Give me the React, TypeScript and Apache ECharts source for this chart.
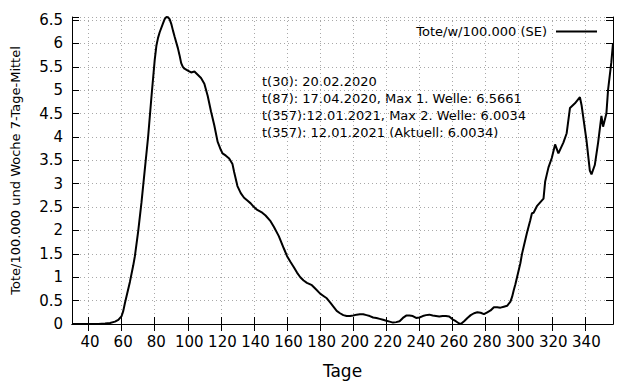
import React, { useEffect, useRef } from "react";
import * as echarts from "echarts";

const days = [
  30, 36, 42, 46, 50, 53, 56, 58, 60, 61, 62, 63, 65, 67, 68, 70, 72, 74, 76, 78, 80, 81, 82, 83, 85, 86, 87, 88, 89, 90,
  91, 92, 94, 95, 96, 97, 98, 100, 102, 104, 106, 108, 110, 112, 114, 116, 118, 120, 121, 123, 125, 127, 128, 130, 132,
  134, 136, 138, 140, 142, 145, 147, 150, 152, 155, 158, 160, 162, 164, 166, 168, 170, 172, 175, 177, 180, 182, 184, 186,
  188, 190, 192, 194, 196, 198, 200, 202, 204, 206, 208, 210, 212, 214, 216, 218, 220, 222, 224, 226, 228, 230, 232, 234,
  236, 238, 240, 242, 244, 246, 248, 250, 252, 254, 256, 258, 260, 262, 264, 265, 267, 269, 271, 273, 275, 277, 279, 281,
  283, 285, 287, 289, 291, 293, 295, 296, 297, 298, 299, 301, 302, 303, 305, 307, 308, 309, 310, 311, 313, 315, 316, 317,
  318, 320, 322, 324, 327, 329, 331, 334, 337, 338, 341, 343, 344, 346, 348, 350, 351, 353, 354, 356, 357,
];

const values = [
  0, 0, 0, 0, 0.01, 0.02, 0.05, 0.09, 0.17, 0.28, 0.45, 0.6, 0.9, 1.25, 1.45, 1.98, 2.6, 3.3, 4.0, 4.85, 5.65, 5.95, 6.12,
  6.24, 6.43, 6.52, 6.5661, 6.56, 6.52, 6.42, 6.28, 6.15, 5.9, 5.75, 5.58, 5.5, 5.46, 5.42, 5.38, 5.4, 5.33, 5.26, 5.14,
  4.88, 4.55, 4.25, 3.9, 3.72, 3.65, 3.6, 3.54, 3.42, 3.25, 2.95, 2.8, 2.7, 2.64, 2.58, 2.5, 2.44, 2.38, 2.32, 2.2, 2.08,
  1.88, 1.62, 1.45, 1.33, 1.22, 1.1, 1.0, 0.93, 0.88, 0.83, 0.76, 0.65, 0.6, 0.55, 0.46, 0.37, 0.28, 0.23, 0.19, 0.17,
  0.17, 0.18, 0.2, 0.21, 0.21, 0.19, 0.17, 0.14, 0.13, 0.11, 0.09, 0.07, 0.05, 0.03, 0.04, 0.06, 0.13, 0.18, 0.18, 0.17,
  0.13, 0.14, 0.17, 0.19, 0.2, 0.18, 0.17, 0.16, 0.17, 0.17, 0.16, 0.1, 0.06, 0.01, 0, 0.06, 0.13, 0.19, 0.23, 0.25, 0.24,
  0.21, 0.25, 0.29, 0.36, 0.36, 0.35, 0.37, 0.39, 0.48, 0.58, 0.72, 0.85, 1.0, 1.3, 1.5, 1.65, 1.95, 2.22, 2.37, 2.38,
  2.45, 2.52, 2.6, 2.68, 3.05, 3.2, 3.35, 3.55, 3.84, 3.65, 3.88, 4.08, 4.62, 4.72, 4.85, 4.68, 3.92, 3.28, 3.2, 3.4,
  3.88, 4.45, 4.22, 4.5, 5.0, 5.6, 6.0034,
];

const xTicks = [40, 60, 80, 100, 120, 140, 160, 180, 200, 220, 240, 260, 280, 300, 320, 340];

const seriesName = "Tote/w/100.000 (SE)";
const xAxisName = "Tage";
const yAxisName = "Tote/100.000 und Woche 7-Tage-Mittel";
const annotations = [
  "t(30): 20.02.2020",
  "t(87): 17.04.2020, Max 1. Welle: 6.5661",
  "t(357):12.01.2021, Max 2. Welle: 6.0034",
  "t(357): 12.01.2021 (Aktuell: 6.0034)",
];

const X_MIN = 30;
const X_MAX = 357;
const Y_MAX = 6.5661;

const FONT = "DejaVu Sans";

export default function App() {
  const ref = useRef<HTMLDivElement>(null);

  useEffect(() => {
    if (!ref.current) return;
    const chart = echarts.init(ref.current, undefined, { renderer: "svg" });
    const data = days.map((d, i) => [d, values[i]]);
    const gridLine = { show: true, lineStyle: { color: "#a8a8a8", type: [1, 3] as any, width: 1 } };
    const yLabelFmt = (v: number) => (Math.abs(v * 2 - Math.round(v * 2)) < 1e-9 ? String(v) : "");

    chart.setOption({
      animation: false,
      backgroundColor: "#ffffff",
      textStyle: { fontFamily: FONT },
      grid: { left: 72, right: 27, top: 17, bottom: 55, containLabel: false },
      legend: {
        show: true,
        right: 38,
        top: 20,
        align: "right",
        icon: "rect",
        itemWidth: 41,
        itemHeight: 2,
        textStyle: { fontFamily: FONT, fontSize: 13, color: "#000", padding: [0, 4, 0, 0] },
        data: [seriesName],
      },
      xAxis: [
        {
          type: "value",
          min: X_MIN,
          max: X_MAX,
          name: xAxisName,
          nameLocation: "middle",
          nameGap: 38,
          nameTextStyle: { fontFamily: FONT, fontSize: 17, color: "#000" },
          axisLine: { show: true, lineStyle: { color: "#000", width: 1 } },
          axisTick: { show: true, inside: true, length: 7, lineStyle: { color: "#000" }, customValues: xTicks },
          axisLabel: {
            fontFamily: FONT,
            fontSize: 15,
            color: "#000",
            margin: 10,
            padding: [0, 0, 0, 3],
            customValues: xTicks,
          },
          splitLine: gridLine,
        },
        {
          type: "value",
          position: "top",
          min: X_MIN,
          max: X_MAX,
          axisLine: { show: true, lineStyle: { color: "#000", width: 1 } },
          axisTick: { show: true, inside: true, length: 7, lineStyle: { color: "#000" }, customValues: xTicks },
          axisLabel: { show: false },
          splitLine: { show: false },
        },
      ],
      yAxis: [
        {
          type: "value",
          min: 0,
          max: Y_MAX,
          interval: 0.5,
          name: yAxisName,
          nameLocation: "middle",
          nameRotate: 90,
          nameGap: 50,
          nameTextStyle: { fontFamily: FONT, fontSize: 13, color: "#000" },
          axisLine: { show: true, lineStyle: { color: "#000", width: 1 } },
          axisTick: { show: true, inside: true, length: 7, lineStyle: { color: "#000" } },
          axisLabel: { fontFamily: FONT, fontSize: 15, color: "#000", margin: 9, formatter: yLabelFmt },
          splitLine: gridLine,
        },
        {
          type: "value",
          position: "right",
          min: 0,
          max: Y_MAX,
          interval: 0.5,
          axisLine: { show: true, lineStyle: { color: "#000", width: 1 } },
          axisTick: { show: true, inside: true, length: 7, lineStyle: { color: "#000" } },
          axisLabel: { show: false },
          splitLine: { show: false },
        },
      ],
      graphic: annotations.map((t, i) => ({
        type: "text",
        left: 262,
        top: 75 + i * 17,
        style: { text: t, fontFamily: FONT, fontSize: 13, fill: "#000" },
      })),
      series: [
        {
          name: seriesName,
          type: "line",
          xAxisIndex: 0,
          yAxisIndex: 0,
          data,
          showSymbol: false,
          symbol: "none",
          smooth: false,
          lineStyle: { color: "#000", width: 2 },
          itemStyle: { color: "#000" },
        },
      ],
    });

    return () => chart.dispose();
  }, []);

  return (
    <div
      ref={ref}
      style={{ position: "fixed", left: 0, top: 0, width: 640, height: 384, background: "#fff" }}
    />
  );
}
